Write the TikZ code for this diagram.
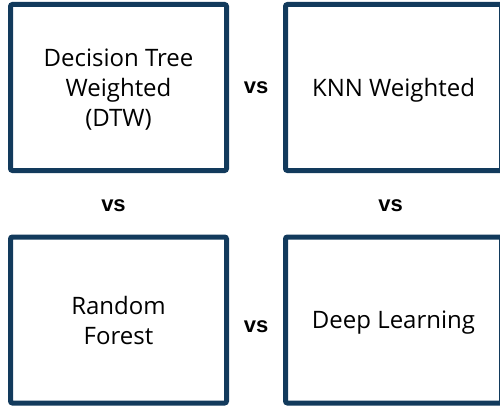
\documentclass[tikz,border=0pt]{standalone}
\usepackage{fontspec}
\setmainfont{Open Sans}
\newfontfamily\vsfont{Liberation Sans}
\usetikzlibrary{positioning}
\definecolor{boxblue}{RGB}{18,58,92}
\tikzstyle{mblock} = [rectangle, draw=boxblue, line width=5pt, rounded corners=2pt,
    minimum width=216pt, minimum height=166pt, inner sep=0pt, outer sep=0pt,
    text centered, text depth=0pt, font=\fontsize{24}{30}\selectfont]
\tikzstyle{vslabel} = [font=\vsfont\bfseries\fontsize{22}{26}\selectfont]

\begin{document}
\begin{tikzpicture}[x=1pt, y=1pt, every text node part/.style={align=center}]
	\useasboundingbox (0,0) rectangle (500,405);
	% the four models
	\node [mblock] (dtw) at (118.5,317.5) {Decision Tree\\Weighted\\(DTW)};
	\node [mblock, right=59pt of dtw] (knn) {KNN Weighted};
	\node [mblock, below=66.5pt of dtw] (rf) {Random\\Forest};
	\node [mblock, right=59pt of rf] (dl) {Deep Learning};
	
	% comparisons
	\path (dtw) -- node[vslabel]{vs} (knn);
	\path (rf) -- node[vslabel, yshift=-7pt]{vs} (dl);
	\path (dtw) -- node[vslabel, xshift=-5pt, yshift=-2pt]{vs} (rf);
	\path (knn) -- node[vslabel, xshift=-3pt, yshift=-2pt]{vs} (dl);
\end{tikzpicture}
\end{document}
